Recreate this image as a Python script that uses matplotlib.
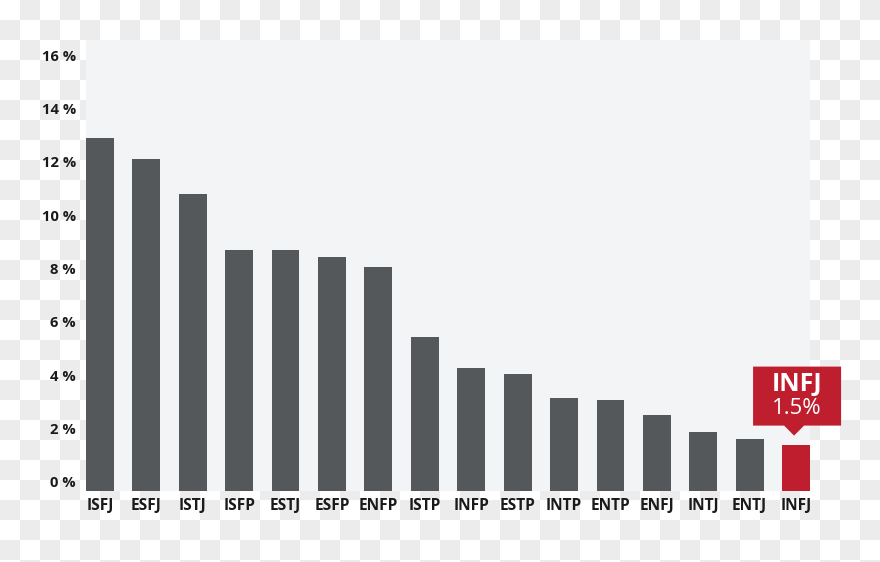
import numpy as np
import matplotlib
matplotlib.use("Agg")
import matplotlib.pyplot as plt
from matplotlib.patches import Polygon
from matplotlib.transforms import Affine2D, ScaledTranslation

types = ["ISFJ", "ESFJ", "ISTJ", "ISFP", "ESTJ", "ESFP", "ENFP", "ISTP",
         "INFP", "ESTP", "INTP", "ENTP", "ENFJ", "INTJ", "ENTJ", "INFJ"]
share = [12.9, 12.1, 10.8, 8.7, 8.7, 8.45, 8.07, 5.42,
         4.27, 4.05, 3.16, 3.06, 2.51, 1.86, 1.62, 1.4]
yticks = [0, 2, 4, 6, 8, 10, 12, 14, 16]
ytick_labels = [f"{v} %" for v in yticks]
highlight = "INFJ"
callout_title = "INFJ"
callout_value = "1.5%"

W, H, DPI = 880, 562, 100
fig = plt.figure(figsize=(W / DPI, H / DPI), dpi=DPI)

# checkerboard "transparency" backdrop
rows = np.arange(H)[:, None] // 20
cols = np.arange(W)[None, :] // 20
odd = ((rows + cols) % 2)
img = np.ones((H, W, 3))
img[odd == 1] = np.array([236, 236, 236]) / 255.0
fig.figimage(img, xo=0, yo=0, origin="upper", zorder=-10)

ax = fig.add_axes([86 / W, 71 / H, 724 / W, 451 / H])
ax.set_zorder(1)
ax.set_facecolor("#f3f4f6")
ymin, ymax = -0.34, 16.57
ax.set_ylim(ymin, ymax)
ax.set_xlim(-0.3, len(types) - 0.7)

x = np.arange(len(types))
vals = np.array(share)
colors = ["#be1e2d" if t == highlight else "#55585b" for t in types]
ax.bar(x, vals - ymin, bottom=ymin, width=0.6, color=colors,
       edgecolor="none", zorder=2)

for s in ax.spines.values():
    s.set_visible(False)
ax.set_yticks(yticks)
ax.set_yticklabels(ytick_labels)
ax.set_xticks(x)
ax.set_xticklabels(types)
ax.tick_params(axis="both", length=0)
ax.tick_params(axis="y", pad=7.2)
ax.tick_params(axis="x", pad=5)
for lab in ax.get_yticklabels():
    lab.set_fontfamily("Open Sans")
    lab.set_fontweight("bold")
    lab.set_fontsize(10.6)
    lab.set_color("#1a1a1a")
for lab in ax.get_xticklabels():
    lab.set_fontfamily("Open Sans")
    lab.set_fontweight("bold")
    lab.set_fontsize(11.2)
    lab.set_color("#1a1a1a")

# callout above highlighted bar
hi = types.index(highlight)
anchor = ScaledTranslation(hi, share[hi], ax.transData)
trans = Affine2D() + anchor
verts = [(-43, 19), (-12, 19), (-2, 9), (8, 19), (45, 19), (45, 78), (-43, 78)]
poly = Polygon(verts, closed=True, transform=trans, facecolor="#be1e2d",
               edgecolor="none", clip_on=False, zorder=5)
ax.add_patch(poly)
ax.annotate(callout_title, xy=(hi, share[hi]), xytext=(1, 54),
            textcoords="offset pixels", ha="center", va="baseline",
            fontfamily="Open Sans", fontweight="bold", fontsize=18,
            color="white", zorder=6, annotation_clip=False)
ax.annotate(callout_value, xy=(hi, share[hi]), xytext=(1, 31),
            textcoords="offset pixels", ha="center", va="baseline",
            fontfamily="Open Sans", fontsize=16,
            color="white", zorder=6, annotation_clip=False)

fig.savefig("out.png", dpi=DPI)
